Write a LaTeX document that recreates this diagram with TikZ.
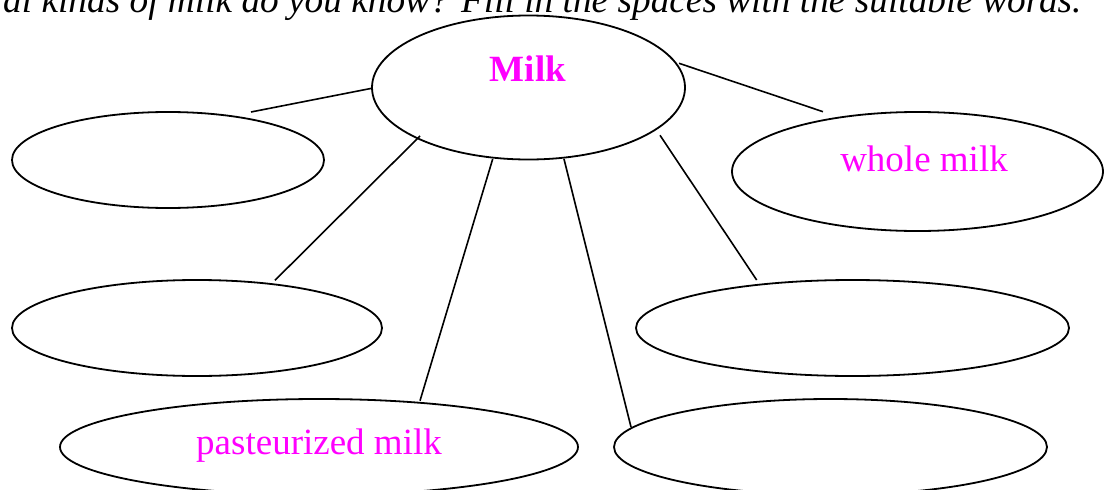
\documentclass[tikz,border=0pt]{standalone}
\usepackage{fontspec}
\setmainfont{Liberation Serif}
\usetikzlibrary{shapes.geometric}
\definecolor{fillword}{HTML}{FF00FF}
\begin{document}
\begin{tikzpicture}[x=1pt,y=-1pt,
  bubble/.style={draw, ellipse, line width=1.8pt, inner sep=0pt},
  spoke/.style={line width=1.6pt},
  word/.style={text=fillword, font=\fontsize{37}{44}\selectfont, anchor=base, inner sep=0pt}]
\clip (0,0) rectangle (1104,490);

% instruction line
\node[anchor=base west, inner sep=0pt, font=\fontsize{37.3}{44}\selectfont\itshape] (prompt) at (3,12)
  {al kinds of milk do you know? Fill in the spaces with the suitable words.};

% central bubble
\node[bubble, minimum width=313pt, minimum height=144pt] (milk) at (528.5,87.5) {};
\node[word, font=\fontsize{37}{44}\selectfont\bfseries] (milktext) at (528,81.7) {Milk};

% outer bubbles
\node[bubble, minimum width=312pt, minimum height=96pt] (b1) at (168,160) {};
\node[bubble, minimum width=370pt, minimum height=96pt] (b2) at (197,328) {};
\node[bubble, minimum width=518pt, minimum height=96pt] (b3) at (319,447) {};
\node[bubble, minimum width=433pt, minimum height=96pt] (b4) at (830.5,447) {};
\node[bubble, minimum width=433pt, minimum height=96pt] (b5) at (852.5,328) {};
\node[bubble, minimum width=371pt, minimum height=119pt] (b6) at (917.5,171.5) {};

\node[word] (pasteur) at (319,454.5) {pasteurized milk};
\node[word] (whole) at (924,171.7) {whole milk};

% spoke end points
\coordinate (m1) at (371.7,88.3);  \coordinate (e1) at (251,112);
\coordinate (m2) at (420,136);     \coordinate (e2) at (275,280.3);
\coordinate (m3) at (492.7,159);   \coordinate (e3) at (420,400.7);
\coordinate (m4) at (564,159);     \coordinate (e4) at (631,427);
\coordinate (m5) at (660,135.3);   \coordinate (e5) at (756.7,280);
\coordinate (m6) at (679,63.3);    \coordinate (e6) at (823,111.7);

\foreach \i in {1,...,6} \draw[spoke] (m\i) -- (e\i);
\end{tikzpicture}
\end{document}
